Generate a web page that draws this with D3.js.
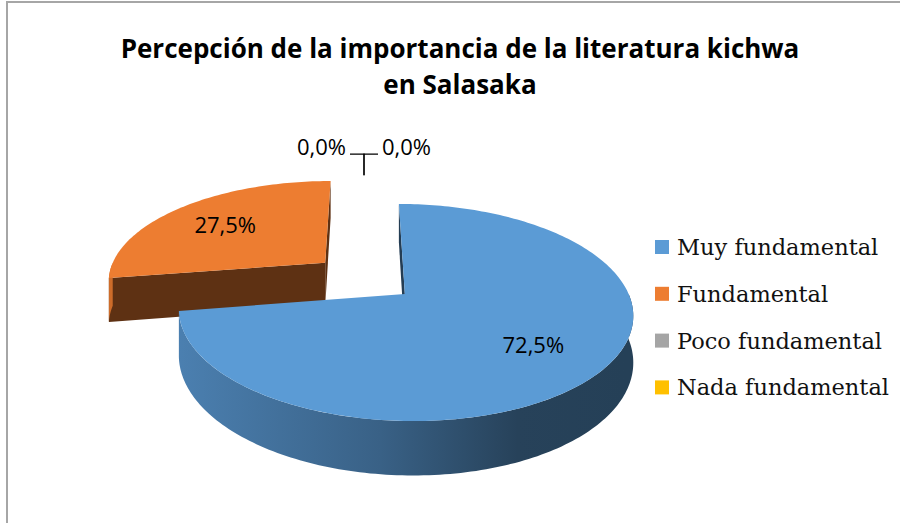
<!DOCTYPE html>
<html>
<head>
<meta charset="utf-8">
<script src="https://cdn.jsdelivr.net/npm/d3@7"></script>
<style>
  body { margin: 0; background: #fff; }
  svg { display: block; }
</style>
</head>
<body>
<div id="chart"></div>
<script>
const categories = ['Muy fundamental', 'Fundamental', 'Poco fundamental', 'Nada fundamental'];
const values = [72.5, 27.5, 0.0, 0.0];
const colors = ['#5B9BD5', '#ED7D31', '#A5A5A5', '#FFC000'];
const titleLines = ['Percepción de la importancia de la literatura kichwa', 'en Salasaka'];

const width = 900, height = 523;
// pseudo 3d pie settings
const cx = 364, cy = 278, rx = 218, rz = 100, persp = 0.166, thick = 44, explode = 0.24;

const svg = d3.select('#chart')
  .append('svg')
  .attr('width', width)
  .attr('height', height);

const defs = svg.append('defs');

// chart border (only left/top visible in the crop)
svg.append('rect')
  .attr('x', 7).attr('y', 2)
  .attr('width', width + 20).attr('height', height + 20)
  .attr('fill', 'none')
  .attr('stroke', '#a6a6a6')
  .attr('stroke-width', 2);

// title
svg.append('text')
  .attr('x', 460).attr('y', 58)
  .attr('text-anchor', 'middle')
  .style('font-family', '"Open Sans", sans-serif')
  .style('font-weight', 700)
  .style('font-size', '26px')
  .selectAll('tspan')
  .data(titleLines)
  .join('tspan')
  .attr('x', 460)
  .attr('dy', (d, i) => i ? 36 : 0)
  .text(d => d);

const pie = d3.pie().sort(null).startAngle(0).endAngle(2 * Math.PI);
const arcs = pie(values);

const fmt = v => d3.format('.1f')(v).replace('.', ',') + '%';

function proj(X, Z, d) {
  const s = 1 / (1 + persp * Z);
  return [cx + rx * X * s, cy - rz * Z * s + thick * d * s];
}

const slices = arcs.map((a, i) => {
  const mid = (a.startAngle + a.endAngle) / 2;
  const ox = explode * Math.sin(mid), oz = explode * Math.cos(mid);
  const pt = (ang, r, d) => proj(ox + r * Math.sin(ang), oz + r * Math.cos(ang), d);
  return { ...a, i, mid, ox, oz, pt };
});

const line = d3.line();
const g = svg.append('g');

function arcPts(sl, a0, a1, d) {
  const n = Math.max(2, Math.ceil((a1 - a0) / 0.02));
  return d3.range(n + 1).map(k => sl.pt(a0 + (a1 - a0) * k / n, 1, d));
}

// far slices first
slices.filter(s => s.endAngle - s.startAngle > 1e-6)
  .sort((a, b) => b.oz - a.oz)
  .forEach(sl => {
    const base = d3.color(colors[sl.i]);
    const dark = base.darker(2.6).formatHex();
    const gid = 'wall' + sl.i;
    const grad = defs.append('linearGradient')
      .attr('id', gid)
      .attr('gradientUnits', 'userSpaceOnUse')
      .attr('x1', cx - rx * 1.05).attr('x2', cx + rx * 1.2)
      .attr('y1', 0).attr('y2', 0);
    [[0, 0.4], [0.5, 1.3], [0.78, 2.4], [1, 2.5]].forEach(([o, k]) =>
      grad.append('stop').attr('offset', o).attr('stop-color', base.darker(k).formatHex()));

    const c0 = sl.pt(0, 0, 0), c1 = sl.pt(0, 0, 1);
    const startFace = [c0, sl.pt(sl.startAngle, 1, 0), sl.pt(sl.startAngle, 1, 1), c1];
    const endFace = [c0, sl.pt(sl.endAngle, 1, 0), sl.pt(sl.endAngle, 1, 1), c1].reverse();
    [startFace, endFace].forEach(f => {
      if (d3.polygonArea(f) > 0) {
        g.append('path').attr('d', line(f) + 'Z').attr('fill', dark);
      }
    });

    const lo = Math.max(sl.startAngle, Math.PI / 2), hi = Math.min(sl.endAngle, 3 * Math.PI / 2);
    if (hi > lo) {
      const wall = arcPts(sl, lo, hi, 0).concat(arcPts(sl, lo, hi, 1).reverse());
      g.append('path').attr('d', line(wall) + 'Z').attr('fill', `url(#${gid})`);
    }

    const top = [c0].concat(arcPts(sl, sl.startAngle, sl.endAngle, 0));
    g.append('path').attr('d', line(top) + 'Z').attr('fill', colors[sl.i]);
  });

// data labels
const labelFont = '"Open Sans", sans-serif';
slices.filter(s => s.value > 0).forEach(sl => {
  const p = sl.pt(sl.mid, 0.68, 0);
  svg.append('text')
    .attr('x', p[0]).attr('y', p[1])
    .attr('text-anchor', 'middle')
    .attr('dominant-baseline', 'central')
    .style('font-family', labelFont)
    .style('font-size', '22px')
    .text(fmt(sl.value));
});

// zero slices get leader lines
const zeros = slices.filter(s => s.value === 0);
zeros.forEach((sl, k) => {
  const p = sl.pt(sl.mid, 1, 0);
  const side = k % 2 ? 1 : -1;
  const yTop = p[1] - 21;
  const xEnd = p[0] + side * 14;
  svg.append('path')
    .attr('d', line([[p[0], p[1]], [p[0], yTop], [xEnd, yTop]]))
    .attr('fill', 'none')
    .attr('stroke', '#000')
    .attr('stroke-width', 1.2);
  svg.append('text')
    .attr('x', xEnd + side * 4).attr('y', yTop - 8)
    .attr('text-anchor', side < 0 ? 'end' : 'start')
    .attr('dominant-baseline', 'central')
    .style('font-family', labelFont)
    .style('font-size', '22px')
    .text(fmt(sl.value));
});

// legend
const legend = svg.append('g').attr('transform', 'translate(655,247)');
const rows = legend.selectAll('g')
  .data(categories)
  .join('g')
  .attr('transform', (d, i) => `translate(0,${i * 46.8})`);
rows.append('rect')
  .attr('x', 0).attr('y', -7)
  .attr('width', 14).attr('height', 14)
  .attr('fill', (d, i) => colors[i]);
rows.append('text')
  .attr('x', 22).attr('y', 8)
  .style('font-family', '"DejaVu Serif", serif')
  .style('font-size', '22.5px')
  .style('fill', '#111')
  .text(d => d);
</script>
</body>
</html>
